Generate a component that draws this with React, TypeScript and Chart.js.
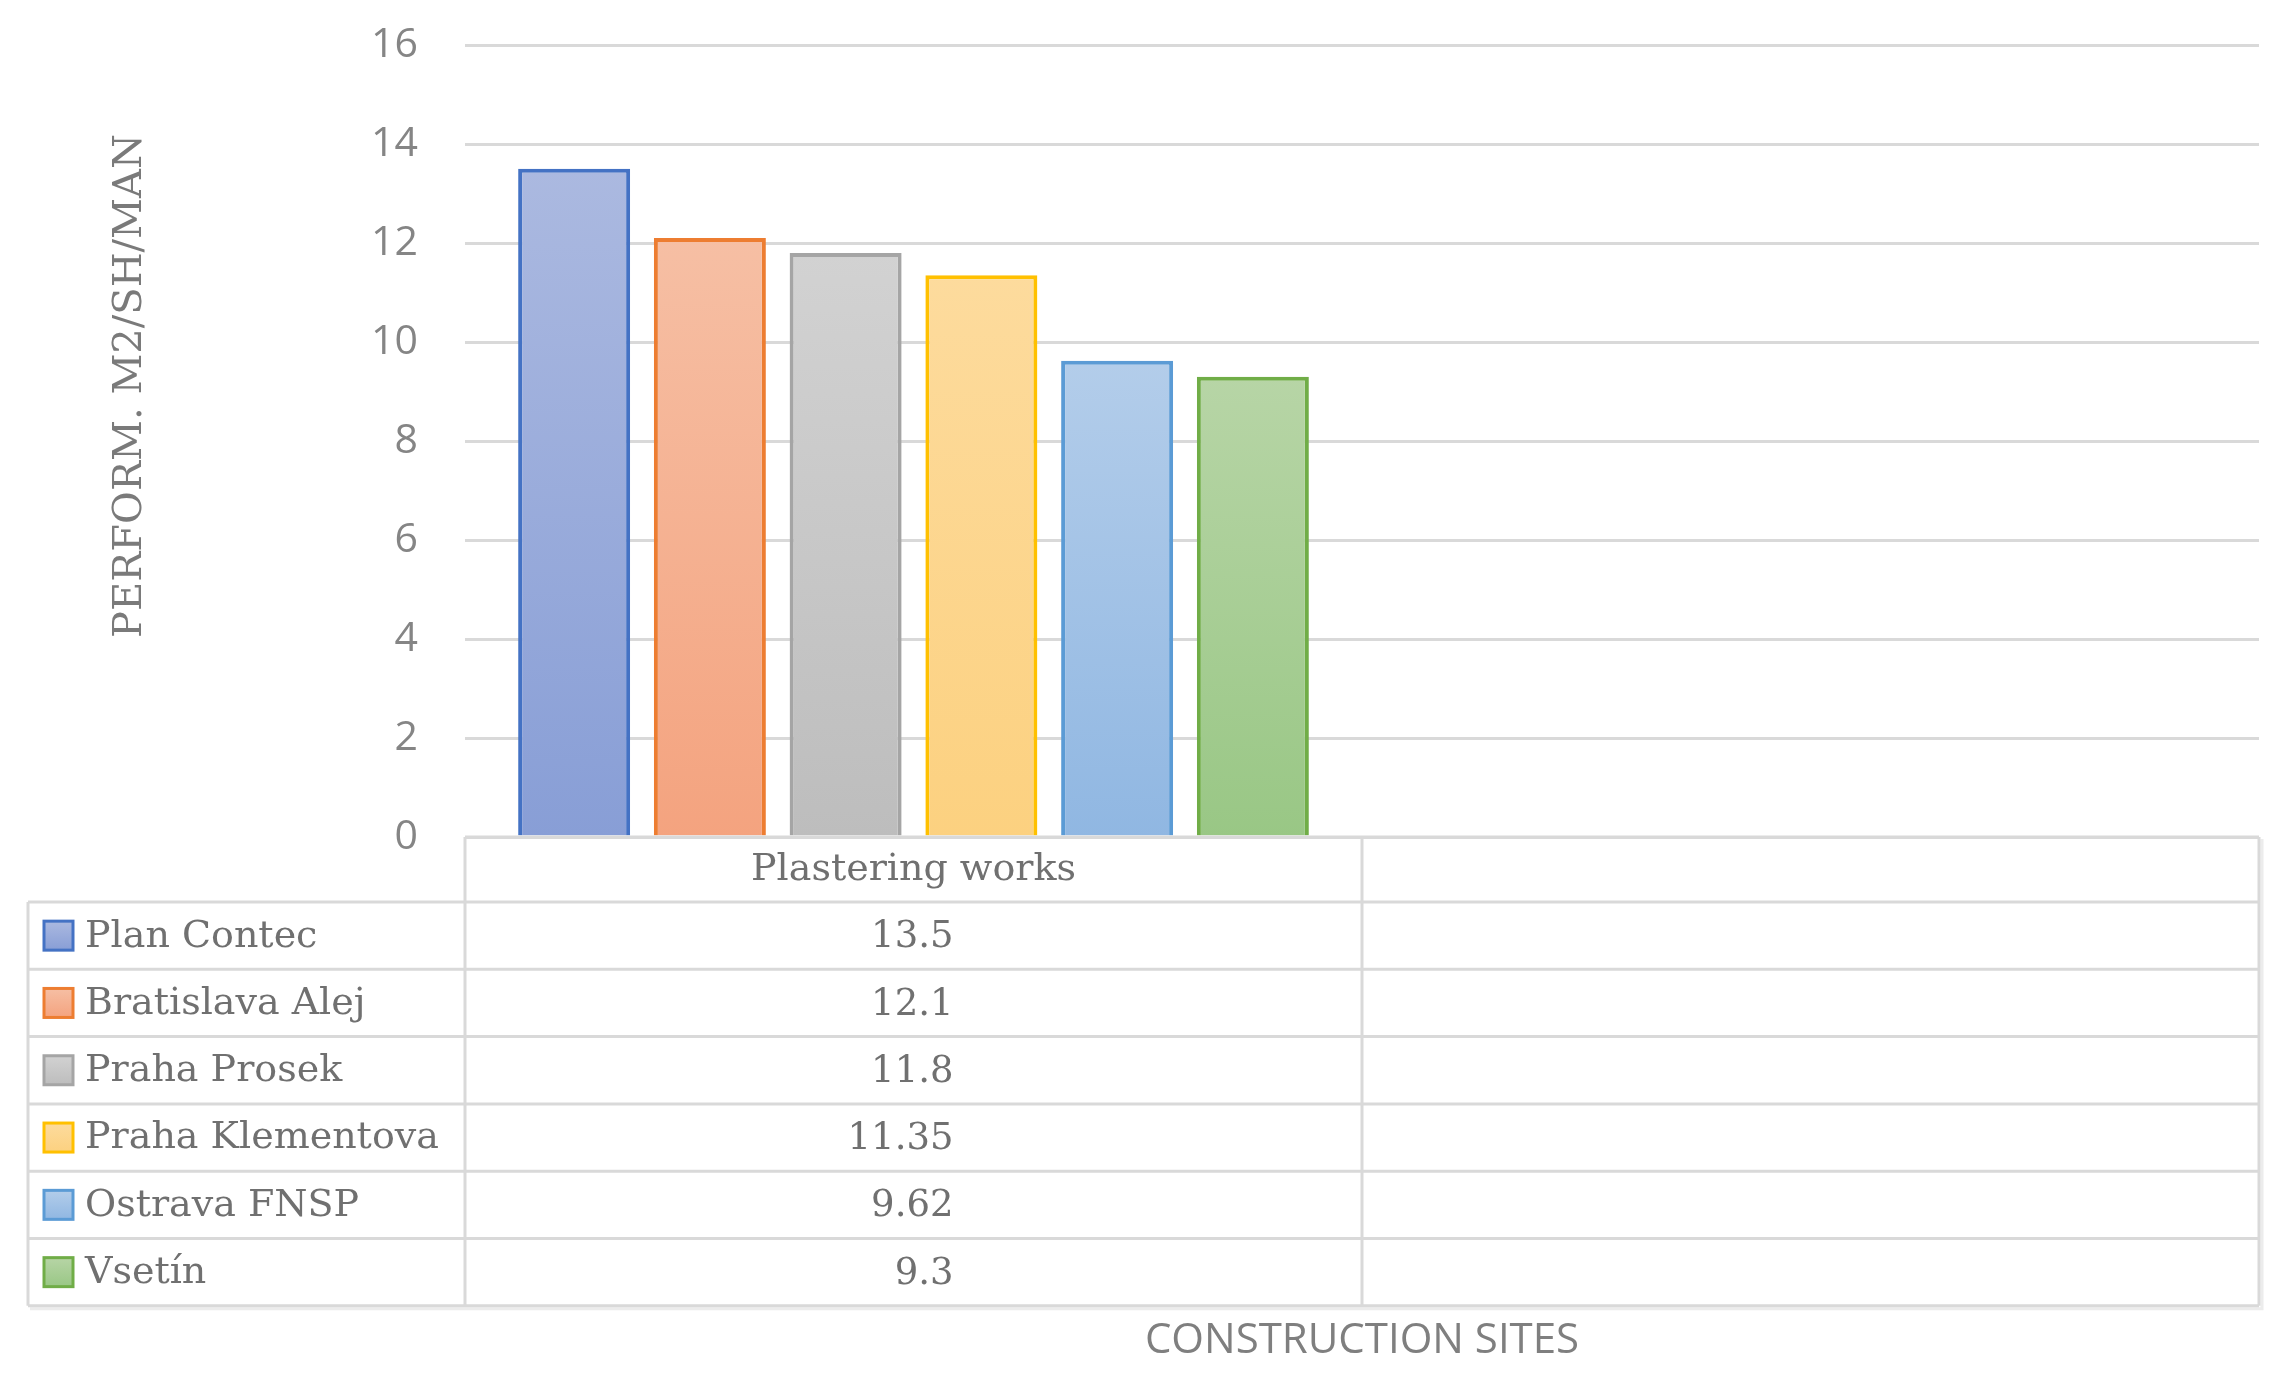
import React, { useEffect, useRef } from "react";
import { Chart, registerables } from "chart.js";

Chart.register(...registerables);

const categories = ["Plastering works", ""];
const seriesNames = ["Plan Contec", "Bratislava Alej", "Praha Prosek", "Praha Klementova", "Ostrava FNSP", "Vsetín"];
const seriesValues = [13.5, 12.1, 11.8, 11.35, 9.62, 9.3];
const seriesLabels = ["13.5", "12.1", "11.8", "11.35", "9.62", "9.3"];
const yMin = 0;
const yMax = 16;
const yStep = 2;
const borderColors = ["#4472C4", "#ED7D31", "#A5A5A5", "#FFC000", "#5B9BD5", "#70AD47"];
const fillTop = ["#abb9e0", "#f6bfa4", "#d2d2d2", "#fddb9d", "#b3cdea", "#b7d5a6"];
const fillBottom = ["#889ed6", "#f4a37f", "#bdbdbd", "#fcd180", "#90b7e2", "#99c785"];
const yAxisTitle = "PERFORM. M2/SH/MAN";
const xAxisTitle = "CONSTRUCTION SITES";

const SERIF = '"DejaVu Serif", "Liberation Serif", serif';
const SANS = '"Open Sans", "Liberation Sans", sans-serif';

const tablePlugin = {
  id: "dataTable",
  afterDraw(chart: any) {
    const { ctx, chartArea } = chart;
    const xs = chart.scales.x;
    const left = chartArea.left;
    const right = chartArea.right;
    const top = chartArea.bottom;
    const headerH = 65;
    const rowH = 67.3;
    const tableLeft = 28;
    const bottomY = top + headerH + rowH * seriesNames.length;
    const catW = (right - left) / categories.length;

    ctx.save();
    ctx.strokeStyle = "#ececec";
    ctx.lineWidth = 3;
    ctx.beginPath();
    ctx.moveTo(tableLeft + 2, bottomY + 3);
    ctx.lineTo(right + 3, bottomY + 3);
    ctx.lineTo(right + 3, top + 2);
    ctx.stroke();

    ctx.strokeStyle = "#d9d9d9";
    ctx.lineWidth = 3;
    ctx.beginPath();
    ctx.moveTo(left, top);
    ctx.lineTo(right, top);
    for (let i = 0; i <= seriesNames.length; i++) {
      const y = top + headerH + rowH * i;
      ctx.moveTo(tableLeft, y);
      ctx.lineTo(right, y);
    }
    ctx.moveTo(tableLeft, top + headerH);
    ctx.lineTo(tableLeft, bottomY);
    for (let c = 0; c <= categories.length; c++) {
      const x = left + catW * c;
      ctx.moveTo(x, top);
      ctx.lineTo(x, bottomY);
    }
    ctx.stroke();

    ctx.fillStyle = "#707070";
    ctx.font = `38px ${SERIF}`;
    ctx.textBaseline = "middle";
    ctx.textAlign = "center";
    categories.forEach((cat, c) => {
      const cx = xs.getPixelForValue(c);
      ctx.fillText(cat, cx, top + headerH / 2 + 1);
    });

    seriesNames.forEach((name, i) => {
      const cy = top + headerH + rowH * i + rowH / 2;
      const s = 29;
      const kx = 44;
      const ky = cy - s / 2;
      const g = ctx.createLinearGradient(0, ky, 0, ky + s);
      g.addColorStop(0, fillTop[i]);
      g.addColorStop(1, fillBottom[i]);
      ctx.fillStyle = g;
      ctx.fillRect(kx, ky, s, s);
      ctx.strokeStyle = borderColors[i];
      ctx.lineWidth = 3;
      ctx.strokeRect(kx, ky, s, s);

      ctx.fillStyle = "#707070";
      ctx.font = `38px ${SERIF}`;
      ctx.textAlign = "left";
      ctx.fillText(name, 85, cy + 1);

      const cx = xs.getPixelForValue(0);
      ctx.textAlign = "right";
      ctx.font = `37px ${SERIF}`;
      ctx.fillText(seriesLabels[i], cx + 40, cy + 2);
    });

    ctx.save();
    ctx.translate(131, 386);
    ctx.rotate(-Math.PI / 2);
    ctx.textAlign = "center";
    ctx.textBaseline = "middle";
    ctx.fillStyle = "#7a7a7a";
    ctx.font = `40px ${SERIF}`;
    ctx.fillText(yAxisTitle, 0, 0);
    ctx.restore();

    ctx.textAlign = "center";
    ctx.textBaseline = "middle";
    ctx.fillStyle = "#7f7f7f";
    ctx.font = `42px ${SANS}`;
    ctx.fillText(xAxisTitle, (left + right) / 2, 1341);
    ctx.restore();
  },
};

export default function App() {
  const canvasRef = useRef<HTMLCanvasElement | null>(null);

  useEffect(() => {
    const canvas = canvasRef.current;
    if (!canvas) return;

    const datasets = seriesNames.map((name, i) => ({
      label: name,
      data: categories.map((_, c) => (c === 0 ? seriesValues[i] : null)),
      backgroundColor: (context: any) => {
        const chart = context.chart;
        const ys = chart.scales && chart.scales.y;
        const v = context.parsed ? context.parsed.y : null;
        if (!ys || v == null || !chart.ctx) return fillTop[i];
        const yTop = ys.getPixelForValue(v);
        const yBase = ys.getPixelForValue(0);
        if (!isFinite(yTop) || !isFinite(yBase) || yTop === yBase) return fillTop[i];
        const g = chart.ctx.createLinearGradient(0, yTop, 0, yBase);
        g.addColorStop(0, fillTop[i]);
        g.addColorStop(1, fillBottom[i]);
        return g;
      },
      borderColor: borderColors[i],
      borderWidth: 4,
      categoryPercentage: 0.908,
      barPercentage: 0.825,
    }));

    const chart = new Chart(canvas, {
      type: "bar",
      data: { labels: categories, datasets },
      options: {
        responsive: false,
        animation: false,
        layout: { padding: { left: 0, right: 21, top: 45, bottom: 0 } },
        plugins: {
          legend: { display: false },
          tooltip: { enabled: false },
        },
        scales: {
          x: {
            ticks: { display: false },
            grid: { display: false },
            border: { display: false },
            afterFit: (scale: any) => {
              scale.height = 543;
              scale.paddingLeft = 0;
              scale.paddingRight = 0;
            },
          },
          y: {
            min: yMin,
            max: yMax,
            ticks: {
              stepSize: yStep,
              padding: 47,
              color: "#858585",
              font: { family: SANS, size: 41 },
            },
            grid: { color: "#d9d9d9", lineWidth: 3, drawTicks: false },
            border: { display: false },
            afterFit: (scale: any) => {
              scale.width = 465;
              scale.paddingTop = 0;
              scale.paddingBottom = 0;
            },
          },
        },
      },
      plugins: [tablePlugin],
    });

    return () => {
      chart.destroy();
    };
  }, []);

  return (
    <div style={{ position: "absolute", left: 0, top: 0, width: 2280, height: 1380, background: "#ffffff" }}>
      <canvas ref={canvasRef} width={2280} height={1380} style={{ display: "block" }} />
    </div>
  );
}
